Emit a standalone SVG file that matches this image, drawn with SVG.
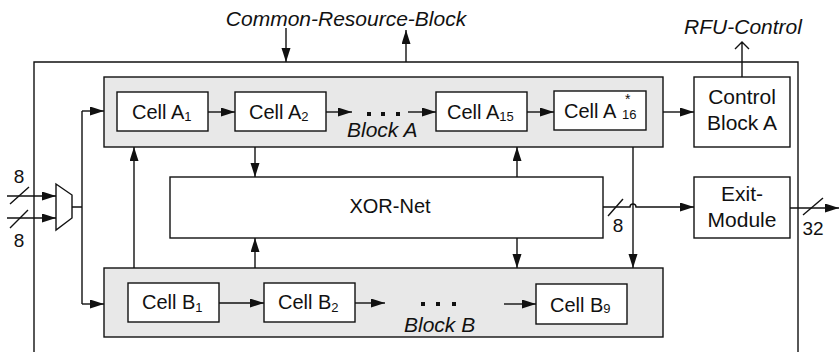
<svg xmlns="http://www.w3.org/2000/svg" width="839" height="352" viewBox="0 0 839 352">
<defs>
<marker id="ah" markerUnits="userSpaceOnUse" markerWidth="14" markerHeight="10" refX="14" refY="4.5" orient="auto"><path d="M0,0 L14,4.5 L0,9 z" fill="#111"/></marker>
<style>
.ln{fill:none;stroke:#111;stroke-width:1.4}
.ar{fill:none;stroke:#111;stroke-width:1.4;marker-end:url(#ah)}
.box{fill:#fff;stroke:#111;stroke-width:1.4}
.grp{fill:#e8e8e8;stroke:#111;stroke-width:1.4}
text{font-family:"Liberation Sans",Arial,sans-serif;fill:#111}
.t{font-size:20px}
.n{font-size:19px}
.lb{font-size:21px}
.it{font-size:21px;font-style:italic}
.s{font-size:13px}
.mid{text-anchor:middle}
</style>
</defs>
<rect width="839" height="352" fill="#fff"/>
<g id="outer"><path class="ln" d="M34,353 V62 H798 V353"/></g>
<g id="blockA"><rect class="grp" x="104" y="77" width="559" height="70"/><text class="it" x="347" y="137">Block A</text></g>
<g id="blockB"><rect class="grp" x="104" y="268" width="559" height="69"/><text class="it" x="404" y="332">Block B</text></g>
<g id="cellA1"><rect class="box" x="117" y="92" width="91" height="39"/><text class="t" x="132" y="119">Cell A<tspan class="s" dy="2">1</tspan></text></g>
<g id="cellA2"><rect class="box" x="235" y="92" width="91" height="39"/><text class="t" x="249" y="119">Cell A<tspan class="s" dy="2">2</tspan></text></g>
<g id="cellA15"><rect class="box" x="436" y="92" width="91" height="39"/><text class="t" x="447" y="119">Cell A<tspan class="s" dy="2">15</tspan></text></g>
<g id="cellA16"><rect class="box" x="554" y="91" width="92" height="39"/><text class="t" x="564" y="118">Cell A<tspan class="s" x="622" y="119">16</tspan><tspan x="625" y="104" style="font-size:14px">*</tspan></text></g>
<g id="cellB1"><rect class="box" x="128" y="283" width="91" height="39"/><text class="t" x="142" y="309">Cell B<tspan class="s" dy="3">1</tspan></text></g>
<g id="cellB2"><rect class="box" x="264" y="283" width="91" height="39"/><text class="t" x="278" y="309">Cell B<tspan class="s" dy="3">2</tspan></text></g>
<g id="cellB9"><rect class="box" x="536" y="284" width="91" height="40"/><text class="t" x="550" y="312">Cell B<tspan class="s" dy="1">9</tspan></text></g>
<g id="xor"><rect class="box" x="170" y="177" width="433" height="61"/><text class="t mid" x="390" y="213">XOR-Net</text></g>
<g id="control"><rect class="box" x="694" y="77" width="96" height="70"/><text class="lb mid" x="742" y="104">Control</text><text class="lb mid" x="742" y="130">Block A</text></g>
<g id="exit"><rect class="box" x="694" y="177" width="96" height="61"/><text class="lb mid" x="742" y="201">Exit-</text><text class="lb mid" x="742" y="227">Module</text></g>
<g id="mux"><path class="box" d="M56,184 L72,195 L72,218 L56,230 Z"/></g>
<g id="labels">
<text class="it mid" x="346" y="26">Common-Resource-Block</text>
<text class="it mid" x="743" y="34">RFU-Control</text>
<text class="n mid" x="19" y="183">8</text>
<text class="n mid" x="19" y="247">8</text>
<text class="n mid" x="618" y="232">8</text>
<text class="n mid" x="813" y="235">32</text>
</g>
<g id="dots" fill="#111">
<rect x="367" y="112" width="4" height="4"/><rect x="381" y="112" width="4" height="4"/><rect x="396" y="112" width="4" height="4"/>
<rect x="421" y="302" width="4" height="4"/><rect x="436" y="302" width="4" height="4"/><rect x="452" y="302" width="4" height="4"/>
</g>
<g id="connectors">
<path class="ar" d="M208,112 H235"/>
<path class="ar" d="M326,112 H352"/>
<path class="ar" d="M408,112 H436"/>
<path class="ar" d="M527,112 H554"/>
<path class="ar" d="M663,112 H694"/>
<path class="ar" d="M219,303 H264"/>
<path class="ar" d="M355,303 H385"/>
<path class="ar" d="M504,304 H536"/>
<path class="ar" d="M286,28 V62"/>
<path class="ar" d="M406,62 V30"/>
<path class="ln" d="M742,77 V42 M735,49 L742,42 L749,49"/>
<path class="ar" d="M255,147 V177"/>
<path class="ar" d="M517,177 V147"/>
<path class="ar" d="M255,268 V238"/>
<path class="ar" d="M517,238 V268"/>
<path class="ar" d="M134,268 V147"/>
<path class="ar" d="M633,147 V268"/>
<path class="ar" d="M603,207 H630 A3,3 0 0 1 636,207 H694"/>
<path class="ln" d="M608,216 L623,199"/>
<path class="ar" d="M790,208 H839"/>
<path class="ln" d="M803,215 L823,198"/>
<path class="ar" d="M7,196 H56"/>
<path class="ar" d="M7,218 H56"/>
<path class="ln" d="M10,204 L29,187 M10,228 L28,210"/>
<path class="ln" d="M72,207 H82 M82,111 V304"/>
<path class="ar" d="M82,111 H104"/>
<path class="ar" d="M82,304 H104"/>
</g>
</svg>
